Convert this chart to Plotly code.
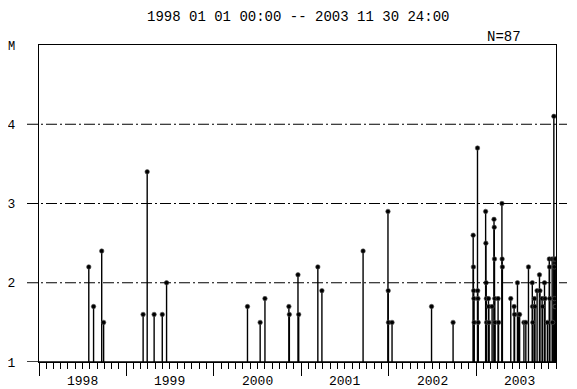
import plotly.graph_objects as go

title_text = "1998 01 01 00:00 -- 2003 11 30 24:00"
count_label = "N=87"
y_label = "M"
x_start, x_end = "1998-01-01", "2003-12-01"
year_labels = ["1998", "1999", "2000", "2001", "2002", "2003"]
y_ticks = [1, 2, 3, 4]
grid_levels = [2, 3, 4]

dates = [
    "1998-07-28", "1998-08-17", "1998-09-20", "1998-09-28",
    "1999-03-12", "1999-03-29", "1999-04-27", "1999-05-31", "1999-06-18",
    "2000-05-21", "2000-07-13", "2000-08-02", "2000-11-10", "2000-11-12",
    "2000-12-18", "2000-12-21",
    "2001-03-11", "2001-03-28", "2001-09-16", "2001-12-29", "2001-12-30", "2001-12-31",
    "2002-01-15", "2002-06-29", "2002-09-27",
    "2002-12-20", "2002-12-21", "2002-12-22", "2002-12-23", "2002-12-24",
    "2003-01-07", "2003-01-08", "2003-01-09", "2003-01-10",
    "2003-02-10", "2003-02-11", "2003-02-12", "2003-02-13", "2003-02-14",
    "2003-02-22", "2003-02-23", "2003-02-24",
    "2003-03-09",
    "2003-03-17", "2003-03-18", "2003-03-19", "2003-03-20", "2003-03-21",
    "2003-04-03", "2003-04-05",
    "2003-04-19", "2003-04-20", "2003-04-21",
    "2003-05-26",
    "2003-06-09", "2003-06-11",
    "2003-06-23", "2003-06-27",
    "2003-07-02", "2003-07-20", "2003-07-28", "2003-08-08",
    "2003-08-24", "2003-08-25", "2003-08-26",
    "2003-09-02", "2003-09-04", "2003-09-13",
    "2003-09-23", "2003-09-25",
    "2003-10-04", "2003-10-06",
    "2003-10-14", "2003-10-16", "2003-10-26",
    "2003-11-03", "2003-11-04", "2003-11-05",
    "2003-11-15", "2003-11-17",
    "2003-11-22", "2003-11-23", "2003-11-24", "2003-11-25", "2003-11-26",
    "2003-11-28", "2003-11-29",
]
mags = [
    2.2, 1.7, 2.4, 1.5,
    1.6, 3.4, 1.6, 1.6, 2.0,
    1.7, 1.5, 1.8, 1.7, 1.6,
    2.1, 1.6,
    2.2, 1.9, 2.4, 2.9, 1.9, 1.5,
    1.5, 1.7, 1.5,
    2.6, 2.2, 1.9, 1.8, 1.5,
    3.7, 1.9, 1.8, 1.5,
    2.9, 2.5, 2.0, 1.8, 1.5,
    1.8, 1.7, 1.5,
    1.7,
    2.8, 2.7, 2.3, 1.8, 1.5,
    1.8, 1.5,
    3.0, 2.3, 2.2,
    1.8,
    1.7, 1.6,
    2.0, 1.6,
    1.6, 1.5, 1.5, 2.2,
    2.0, 1.7, 1.5,
    1.8, 1.7, 1.9,
    2.1, 1.9,
    1.8, 1.7,
    2.0, 1.8, 1.5,
    2.3, 2.2, 1.8,
    2.3, 1.5,
    4.1, 2.3, 2.2, 1.8, 1.7,
    2.3, 1.7,
]

FONT = "Liberation Mono, DejaVu Sans Mono, monospace"
# the page body adds an 8px margin, so the figure is 8px smaller
W, H = 577 - 8, 389 - 8
L, R, T, B = 31, 21, 37, 27
pw, ph = W - L - R, H - T - B

stem_x, stem_y = [], []
for d, m in zip(dates, mags):
    stem_x += [d, d, None]
    stem_y += [y_ticks[0], m, None]

fig = go.Figure()
fig.add_trace(go.Scatter(
    x=stem_x, y=stem_y, mode="lines",
    line=dict(color="black", width=1.4),
    hoverinfo="skip", showlegend=False,
))
fig.add_trace(go.Scatter(
    x=dates, y=mags, mode="markers", yaxis="y2",
    marker=dict(symbol="circle", size=4.5, color="black",
                line=dict(width=0.6, color="#555")),
    showlegend=False,
))

# dash-dot reference lines, running past the frame on both sides
shapes = []
for lv in grid_levels:
    shapes.append(dict(
        type="line", xref="paper", yref="y",
        x0=-12 / pw, x1=1 + 11 / pw, y0=lv, y1=lv,
        line=dict(color="black", width=1, dash="11px,3px,2px,3px"),
    ))
shapes.append(dict(
    type="line", xref="paper", yref="y",
    x0=-12 / pw, x1=1, y0=y_ticks[0], y1=y_ticks[0],
    line=dict(color="black", width=1.3),
))

annotations = [
    dict(text=title_text, xref="paper", yref="paper", x=0.5, y=1 + 28 / ph,
         xanchor="center", yanchor="middle", showarrow=False,
         font=dict(family=FONT, size=14)),
    dict(text=count_label, xref="paper", yref="paper", x=(504 - 39) / pw, y=1 + 8 / ph,
         xanchor="center", yanchor="middle", showarrow=False,
         font=dict(family=FONT, size=14)),
    dict(text=y_label, xref="paper", yref="paper", x=(11 - 39) / pw, y=1 - 2 / ph,
         xanchor="center", yanchor="middle", showarrow=False,
         font=dict(family=FONT, size=12)),
]
# year names sit in the middle of each year
for yr in year_labels:
    annotations.append(dict(
        text=yr, x=f"{yr}-07-01", xref="x", y=0, yref="paper",
        yshift=-19, xanchor="center", yanchor="middle", showarrow=False,
        font=dict(family=FONT, size=13),
    ))

fig.update_layout(
    width=W, height=H,
    margin=dict(l=L, r=R, t=T, b=B, autoexpand=False),
    paper_bgcolor="white", plot_bgcolor="white",
    font=dict(family=FONT, color="black", size=13),
    shapes=shapes,
    annotations=annotations,
    xaxis=dict(
        type="date", range=[x_start, x_end], automargin=False,
        tickmode="linear", tick0=x_start, dtick="M12",
        showticklabels=False,
        ticks="outside", ticklen=13, tickwidth=1.3, tickcolor="black",
        minor=dict(dtick="M1", tick0=x_start, ticks="outside",
                   ticklen=6, tickwidth=1, tickcolor="black"),
        showgrid=False, zeroline=False,
        showline=True, mirror=True, linecolor="black", linewidth=1.3,
    ),
    yaxis=dict(
        range=[1, 5], tickvals=y_ticks, automargin=False,
        ticks="outside", ticklen=11, tickcolor="rgba(0,0,0,0)",
        ticklabelstandoff=9,
        showgrid=False, zeroline=False,
        showline=True, mirror=True, linecolor="black", linewidth=1.3,
        tickfont=dict(family=FONT, size=13),
    ),
    yaxis2=dict(
        range=[1, 5], tickvals=y_ticks, overlaying="y", side="right",
        automargin=False,
        ticks="outside", ticklen=11, tickcolor="rgba(0,0,0,0)",
        showgrid=False, zeroline=False, showline=False,
        tickfont=dict(family=FONT, size=13),
    ),
)

fig.write_html("out.html")
